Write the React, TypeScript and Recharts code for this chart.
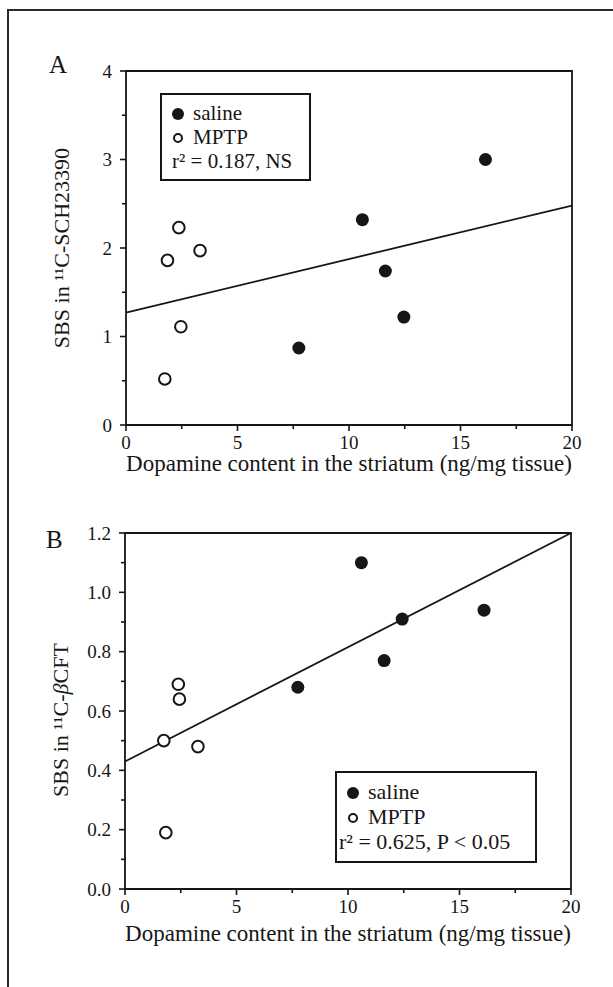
import { Label, Legend, ReferenceArea, Scatter, ScatterChart, XAxis, YAxis } from "recharts";

const FONT = '"Liberation Serif", "Times New Roman", serif';
const INK = "#161616";

// shared x axis (dopamine content, ng/mg tissue)
const xTicks = [0, 2.5, 5, 7.5, 10, 12.5, 15, 17.5, 20];
const xLabels = [0, 5, 10, 15, 20];
const groupOrder = ["saline", "MPTP"];

// panel A: 11C-SCH23390
const salineDopamineA = [7.75, 10.6, 11.63, 12.46, 16.12];
const salineSbsA = [0.87, 2.32, 1.74, 1.22, 3.0];
const mptpDopamineA = [1.86, 2.37, 3.32, 2.46, 1.74];
const mptpSbsA = [1.86, 2.23, 1.97, 1.11, 0.52];
const fitDopamine = [0, 20];
const fitSbsA = [1.27, 2.48];
const yTicksA = [0, 0.5, 1, 1.5, 2, 2.5, 3, 3.5, 4];
const yLabelsA = [0, 1, 2, 3, 4];

// panel B: 11C-beta-CFT
const salineDopamineB = [7.75, 10.6, 11.62, 12.43, 16.1];
const salineSbsB = [0.68, 1.1, 0.77, 0.91, 0.94];
const mptpDopamineB = [1.74, 2.39, 2.44, 3.27, 1.83];
const mptpSbsB = [0.5, 0.69, 0.64, 0.48, 0.19];
const fitSbsB = [0.43, 1.2];
const yTicksB = [0, 0.1, 0.2, 0.3, 0.4, 0.5, 0.6, 0.7, 0.8, 0.9, 1.0, 1.1, 1.2];
const yLabelsB = [0, 0.2, 0.4, 0.6, 0.8, 1.0, 1.2];

const toPoints = (xs: number[], ys: number[]) => xs.map((x, i) => ({ x, y: ys[i] }));
const isMajor = (v: number, majors: number[]) => majors.some((m) => Math.abs(m - v) < 1e-6);

function XTick({ x, y, payload }: any) {
  const major = isMajor(payload.value, xLabels);
  return (
    <g>
      <line x1={x} x2={x} y1={y} y2={y + (major ? 6 : 4)} stroke={INK} strokeWidth={1.6} />
      {major && (
        <text x={x} y={y + 24} textAnchor="middle" fontFamily={FONT} fontSize={19} fill={INK}>
          {payload.value}
        </text>
      )}
    </g>
  );
}

function makeYTick(majors: number[], digits: number) {
  return function YTick({ x, y, payload }: any) {
    const major = isMajor(payload.value, majors);
    return (
      <g>
        <line x1={x} x2={x - (major ? 6 : 4)} y1={y} y2={y} stroke={INK} strokeWidth={1.6} />
        {major && (
          <text x={x - 14} y={y} dy="0.35em" textAnchor="end" fontFamily={FONT} fontSize={19} fill={INK}>
            {payload.value.toFixed(digits)}
          </text>
        )}
      </g>
    );
  };
}

function makeXTitle(offset: number) {
  return function XTitle({ viewBox }: any) {
    return (
      <text
        x={viewBox.x + viewBox.width / 2}
        y={viewBox.y + offset}
        textAnchor="middle"
        fontFamily={FONT}
        fontSize={23}
        fill={INK}
      >
        Dopamine content in the striatum (ng/mg tissue)
      </text>
    );
  };
}

function makeYTitle(tracer: React.ReactNode, shift: number) {
  return function YTitle({ viewBox }: any) {
    const cx = viewBox.x + viewBox.width - 65;
    const cy = viewBox.y + viewBox.height / 2 + shift;
    return (
      <text
        x={cx}
        y={cy}
        transform={`rotate(-90, ${cx}, ${cy})`}
        textAnchor="middle"
        dominantBaseline="central"
        fontFamily={FONT}
        fontSize={22}
        fill={INK}
      >
        SBS in ¹¹C-{tracer}
      </text>
    );
  };
}

function Dot({ cx, cy }: any) {
  return <circle cx={cx} cy={cy} r={6.5} fill={INK} />;
}

function Ring({ cx, cy }: any) {
  return <circle cx={cx} cy={cy} r={5.8} fill="#fff" stroke={INK} strokeWidth={2} />;
}

function makeLegend(stat: string, width: number, height: number, rowHeight: number, padTop: number, fontSize: number, statLeft: number) {
  return function StatLegend({ payload }: any) {
    const rows = (payload || [])
      .filter((p: any) => p.type !== "none" && groupOrder.includes(p.value))
      .sort((a: any, b: any) => groupOrder.indexOf(a.value) - groupOrder.indexOf(b.value));
    return (
      <div
        style={{
          width,
          height,
          boxSizing: "border-box",
          border: `2px solid ${INK}`,
          background: "#fff",
          fontFamily: FONT,
          fontSize,
          color: INK,
          paddingTop: padTop,
        }}
      >
        {rows.map((entry: any) => {
          const open = entry.value === "MPTP";
          return (
            <div key={entry.value} style={{ position: "relative", height: rowHeight, lineHeight: `${rowHeight}px`, whiteSpace: "nowrap" }}>
              <span
                style={{
                  position: "absolute",
                  left: open ? 11 : 10,
                  top: rowHeight / 2 - (open ? 4 : 5),
                  width: open ? 10 : 12,
                  height: open ? 10 : 12,
                  boxSizing: "border-box",
                  borderRadius: "50%",
                  background: open ? "#fff" : INK,
                  border: open ? `2px solid ${INK}` : "none",
                }}
              />
              <span style={{ position: "absolute", left: 31 }}>{entry.value}</span>
            </div>
          );
        })}
        <div style={{ height: rowHeight, lineHeight: `${rowHeight}px`, paddingLeft: statLeft, whiteSpace: "nowrap" }}>{stat}</div>
      </div>
    );
  };
}

type PanelProps = {
  top: number;
  height: number;
  margin: { top: number; right: number; bottom: number; left: number };
  yMax: number;
  yTicks: number[];
  yLabels: number[];
  digits: number;
  saline: { x: number; y: number }[];
  mptp: { x: number; y: number }[];
  fit: { x: number; y: number }[];
  tracer: React.ReactNode;
  titleShift: number;
  xTitleOffset: number;
  legend: (p: any) => React.ReactElement;
  legendPos: { left: number; top: number };
};

function Panel(p: PanelProps) {
  return (
    <div style={{ position: "absolute", left: 0, top: p.top }}>
      <ScatterChart width={613} height={p.height} margin={p.margin}>
        <XAxis
          type="number"
          dataKey="x"
          domain={[0, 20]}
          ticks={xTicks}
          interval={0}
          axisLine={false}
          tickLine={false}
          tickSize={0}
          tickMargin={0}
          height={60}
          tick={<XTick />}
        >
          <Label content={makeXTitle(p.xTitleOffset)} />
        </XAxis>
        <YAxis
          type="number"
          dataKey="y"
          domain={[0, p.yMax]}
          ticks={p.yTicks}
          interval={0}
          axisLine={false}
          tickLine={false}
          tickSize={0}
          tickMargin={0}
          width={80}
          tick={makeYTick(p.yLabels, p.digits)}
        >
          <Label content={makeYTitle(p.tracer, p.titleShift)} />
        </YAxis>
        <ReferenceArea x1={0} x2={20} y1={0} y2={p.yMax} fill="none" stroke={INK} strokeWidth={1.8} />
        <Scatter
          name="fit"
          data={p.fit}
          line={{ stroke: INK, strokeWidth: 1.8 }}
          shape={() => <g />}
          legendType="none"
          isAnimationActive={false}
        />
        <Scatter name="saline" data={p.saline} fill={INK} shape={<Dot />} isAnimationActive={false} />
        <Scatter name="MPTP" data={p.mptp} fill="#fff" shape={<Ring />} isAnimationActive={false} />
        <Legend
          layout="vertical"
          align="center"
          verticalAlign="middle"
          content={p.legend}
          wrapperStyle={{ left: p.legendPos.left, top: p.legendPos.top, width: "auto" }}
        />
      </ScatterChart>
    </div>
  );
}

export default function App() {
  return (
    <div style={{ position: "absolute", left: 0, top: 0, width: 613, height: 987, overflow: "hidden", background: "#fff" }}>
      <div style={{ position: "absolute", left: 7, top: 9, width: 700, height: 1100, border: `2px solid #2a2a2a` }} />
      <Panel
        top={0}
        height={500}
        margin={{ top: 71, right: 41, bottom: 15, left: 46 }}
        yMax={4}
        yTicks={yTicksA}
        yLabels={yLabelsA}
        digits={0}
        saline={toPoints(salineDopamineA, salineSbsA)}
        mptp={toPoints(mptpDopamineA, mptpSbsA)}
        fit={toPoints(fitDopamine, fitSbsA)}
        tracer="SCH23390"
        titleShift={0}
        xTitleOffset={46}
        legend={makeLegend("r² = 0.187, NS", 151, 88, 24, 6, 21, 10)}
        legendPos={{ left: 160, top: 93 }}
      />
      <Panel
        top={470}
        height={517}
        margin={{ top: 63, right: 42, bottom: 38, left: 45 }}
        yMax={1.2}
        yTicks={yTicksB}
        yLabels={yLabelsB}
        digits={1}
        saline={toPoints(salineDopamineB, salineSbsB)}
        mptp={toPoints(mptpDopamineB, mptpSbsB)}
        fit={toPoints(fitDopamine, fitSbsB)}
        tracer={
          <>
            <tspan fontStyle="italic">β</tspan>CFT
          </>
        }
        titleShift={9}
        xTitleOffset={52}
        legend={makeLegend("r² = 0.625, P < 0.05", 202, 92, 25, 6, 22, 2)}
        legendPos={{ left: 335, top: 301 }}
      />
      <div style={{ position: "absolute", left: 49, top: 50, fontFamily: FONT, fontSize: 25, color: INK, lineHeight: "30px" }}>A</div>
      <div style={{ position: "absolute", left: 46, top: 525, fontFamily: FONT, fontSize: 25, color: INK, lineHeight: "30px" }}>B</div>
    </div>
  );
}
